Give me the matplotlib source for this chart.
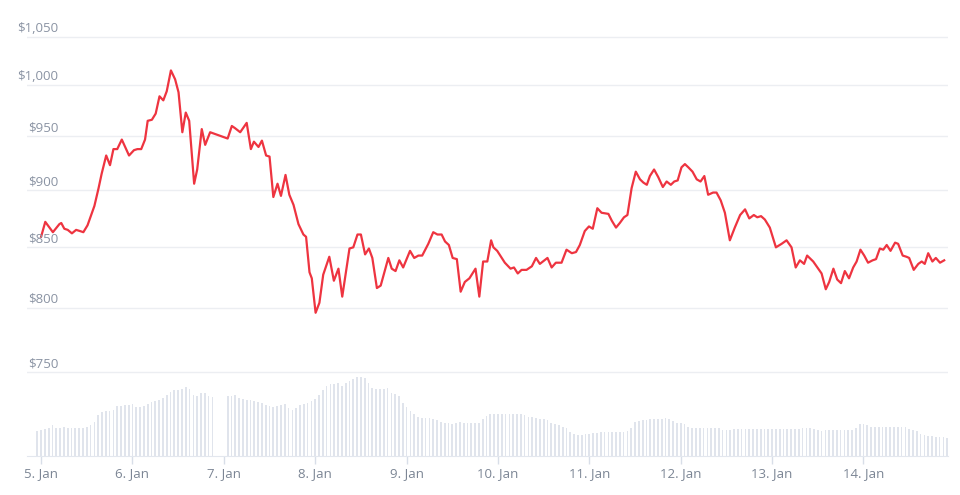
import matplotlib
matplotlib.use("Agg")
import matplotlib.pyplot as plt
import numpy as np

# price line: hours after 5 Jan 00:00 and price in USD
hours = [0.0, 1.1, 3.1, 4.8, 5.3, 6.1, 7.0, 8.1, 9.2, 10.2, 11.1, 12.2, 14.0, 15.1, 15.9,
         17.1, 18.1, 19.0, 20.0, 21.2, 23.1, 24.4, 25.3, 26.3, 27.3, 28.0, 29.1, 30.1, 31.1,
         32.1, 33.0, 34.1, 35.2, 36.1, 37.1, 38.0, 38.9, 40.2, 41.0, 42.2, 43.1, 44.4, 49.0,
         50.1, 50.9, 52.3, 54.0, 55.1, 55.9, 57.1, 58.0, 59.1, 60.0, 61.0, 62.1, 63.0, 64.2,
         65.2, 66.3, 67.6, 68.9, 69.6, 70.5, 71.1, 72.1, 73.1, 74.1, 75.7, 76.9, 78.1, 79.1,
         81.0, 82.0, 83.1, 84.0, 85.1, 86.1, 87.0, 88.2, 89.2, 91.2, 92.1, 93.1, 94.1, 95.1,
         96.9, 98.0, 99.1, 100.1, 101.7, 103.0, 104.1, 105.2, 106.1, 107.1, 108.1, 109.2,
         110.2, 111.3, 112.5, 114.1, 115.1, 116.1, 117.2, 118.2, 118.8, 119.8, 121.8, 123.3,
         124.2, 125.2, 126.2, 127.5, 128.9, 130.0, 131.0, 133.0, 134.1, 135.2, 136.7, 138.0,
         139.4, 140.5, 141.5, 142.8, 143.9, 144.9, 146.1, 147.2, 149.0, 149.9, 151.0, 152.0,
         153.1, 154.0, 155.1, 156.2, 157.3, 158.2, 159.1, 159.9, 161.0, 162.1, 163.3, 164.3,
         165.4, 166.3, 167.2, 168.2, 169.1, 170.0, 171.1, 172.2, 173.2, 174.2, 175.2, 176.5,
         177.4, 178.5, 179.6, 180.9, 182.2, 183.6, 184.9, 186.0, 187.2, 188.1, 189.1, 190.1,
         191.4, 193.0, 194.5, 195.8, 197.1, 198.2, 199.3, 200.4, 201.2, 202.8, 205.0, 206.1,
         207.0, 208.1, 209.1, 210.1, 211.1, 212.2, 213.3, 214.2, 215.2, 216.2, 217.2, 218.4,
         219.3, 220.3, 221.2, 222.1, 223.1, 224.3, 225.1, 226.3, 227.3, 228.0, 229.2, 230.4,
         231.3, 232.1, 233.0, 234.1, 235.0, 236.1, 237.2]
prices = [859, 872, 863, 870, 871, 866, 865, 862, 865, 864, 863, 869, 886, 902, 915,
          932, 923, 938, 938, 947, 932, 937, 938, 938, 947, 965, 966, 972, 989,
          985, 994, 1015, 1006, 993, 954, 973, 965, 906, 919, 957, 942, 954, 948,
          960, 958, 954, 963, 938, 945, 940, 946, 932, 931, 894, 906, 895, 914,
          896, 887, 870, 861, 859, 829, 824, 796, 804, 827, 842, 822, 832, 809,
          849, 850, 861, 861, 844, 849, 841, 816, 818, 841, 832, 830, 839, 833,
          847, 841, 843, 843, 853, 863, 861, 861, 855, 852, 841, 840,
          813, 821, 824, 832, 809, 838, 838, 856, 850, 847, 837, 832,
          833, 828, 831, 831, 834, 841, 836, 841, 833, 837, 837, 848,
          845, 846, 852, 864, 868, 866, 884, 880, 879, 873, 867, 871,
          876, 878, 902, 917, 910, 907, 905, 913, 919, 912, 903, 908,
          905, 908, 909, 921, 924, 921, 917, 910, 908, 913, 896, 898,
          898, 891, 880, 856, 867, 878, 883, 875, 878, 876, 877, 874,
          867, 850, 853, 856, 850, 833, 839, 836, 843, 838, 828, 815,
          821, 832, 823, 820, 830, 824, 833, 838, 848, 843, 837, 839,
          840, 849, 848, 852, 847, 854, 853, 843, 842, 841, 831, 836,
          838, 836, 845, 838, 841, 837, 839]

# hourly volume (relative units), first bar one hour before 5 Jan, gap at 46-48 h
vol_start = -1
volume = [25, 26, 27, 28, 30, 28, 28, 29, 28, 28, 28, 28, 28, 29, 30, 33, 40, 43, 44, 44, 45, 49, 49, 50, 50,
          51, 48, 48, 49, 51, 53, 54, 55, 57, 60, 63, 65, 65, 66, 68, 66, 60, 59, 62, 62, 59, 58,
          0, 0, 0,
          59, 59, 60, 57, 56, 55, 55, 54, 53, 52, 50, 49, 48, 49, 50, 51, 47, 45, 47, 50, 51, 52, 54,
          56, 60, 65, 69, 71, 71, 72, 69, 72, 74, 76, 78, 78, 77, 72, 67, 66, 66, 66, 67, 62, 61, 59,
          52, 48, 44, 41, 38, 37, 37, 37, 36, 35, 33, 32, 32, 31, 32, 33, 32, 32, 32, 32, 32, 36, 39,
          41, 41, 41, 41, 41, 41, 41, 41, 41, 40, 38, 38, 37, 36, 36, 35, 32, 31, 30, 29, 28, 24, 22,
          21, 21, 22, 22, 23, 23, 24, 24, 24, 24, 24, 24, 24, 25, 28, 33, 34, 35, 35, 36, 36, 36, 36,
          37, 36, 34, 32, 32, 31, 29, 28, 28, 28, 28, 28, 28, 28, 28, 26, 26, 26, 27, 27, 27, 27, 27,
          27, 27, 27, 27, 27, 27, 27, 27, 27, 27, 27, 27, 27, 28, 28, 28, 27, 26, 25, 26, 26, 26, 26,
          26, 26, 26, 26, 28, 31, 31, 30, 29, 29, 29, 29, 29, 29, 29, 29, 29, 29, 27, 26, 25, 22, 21,
          20, 20, 19, 19, 19, 18]

day_labels = ["5. Jan", "6. Jan", "7. Jan", "8. Jan", "9. Jan",
              "10. Jan", "11. Jan", "12. Jan", "13. Jan", "14. Jan"]
price_ticks = [750, 800, 850, 900, 950, 1000, 1050]

plt.rcParams["font.family"] = ["Open Sans", "DejaVu Sans"]

fig = plt.figure(figsize=(9.6, 4.95), dpi=100)
W, H = 960, 495
left, right, top, bottom = 27, 948, 30, 456
ax = fig.add_axes([left / W, 1 - bottom / H, (right - left) / W, (bottom - top) / H])
ax2 = ax.twinx()

# volume bars
vol_hours = np.arange(len(volume)) + vol_start
ax2.bar(vol_hours, volume, width=0.45, color="#e0e4ec", linewidth=0)
ax2.set_ylim(0, 419)
ax2.set_yticks([])
for s in ax2.spines.values():
    s.set_visible(False)

# price line
ax.set_zorder(ax2.get_zorder() + 1)
ax.patch.set_visible(False)
ax.plot(hours, prices, color="#ee3440", linewidth=1.6, solid_joinstyle="round")
ax.set_yscale("log")
ax.set_ylim(689.5, 1057)
ax.set_yticks(price_ticks)
ax.minorticks_off()
ax.tick_params(axis="y", left=False, labelleft=False)
ax.yaxis.grid(True, color="#eceef2", linewidth=1)
ax.set_xlim(-3.7, 238.2)

for v in price_ticks:
    ax.annotate("${:,}".format(v), xy=(0.0337, v), xycoords=("axes fraction", "data"),
                xytext=(0, 1.5), textcoords="offset points", ha="right", va="bottom",
                color="#8a93a3", fontsize=9.5)

ax.set_xticks(np.arange(len(day_labels)) * 24)
ax.set_xticklabels(day_labels)
ax.tick_params(axis="x", direction="out", length=6, width=1, color="#d8dee8",
               labelcolor="#7b8594", labelsize=9.5, pad=2)

for name in ["top", "right", "left"]:
    ax.spines[name].set_visible(False)
ax.spines["bottom"].set_color("#e3e7ee")

fig.savefig("out.png", dpi=100)
